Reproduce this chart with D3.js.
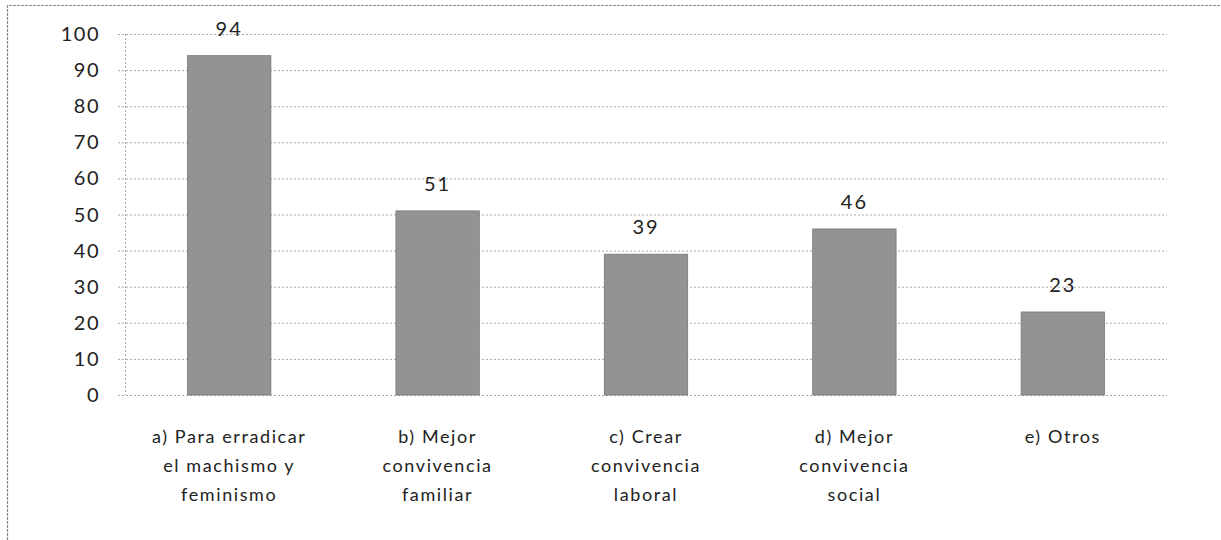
<!DOCTYPE html>
<html>
<head>
<meta charset="utf-8">
<script src="https://cdn.jsdelivr.net/npm/d3@7"></script>
<style>
  body { margin: 0; background: #fff; }
  text { font-family: Lato, "Open Sans", sans-serif; fill: #222; }
</style>
</head>
<body>
<div id="chart"></div>
<script>
// categories and values
var categories = [
    ["a) Para erradicar", "el machismo y", "feminismo"],
    ["b) Mejor", "convivencia", "familiar"],
    ["c) Crear", "convivencia", "laboral"],
    ["d) Mejor", "convivencia", "social"],
    ["e) Otros"]
];
var values = [94, 51, 39, 46, 23];
var yTicks = [0, 10, 20, 30, 40, 50, 60, 70, 80, 90, 100];

var width = 1221, height = 540;
var margin = {top: 34, right: 54, bottom: 145, left: 125};

var svg = d3.select("#chart").append("svg")
    .attr("width", width)
    .attr("height", height);

// outer frame (only top and left edges show)
svg.append("path")
    .attr("d", "M7.5," + height + "V5.5H" + width)
    .attr("fill", "none")
    .attr("stroke", "#8a8a8a")
    .attr("stroke-width", 1.2)
    .attr("stroke-dasharray", "3,1");

var x = d3.scaleBand()
    .domain(d3.range(values.length))
    .range([margin.left, width - margin.right])
    .paddingInner(0.6)
    .paddingOuter(0.3);

var y = d3.scaleLinear()
    .domain([0, 100])
    .range([395, margin.top]);

var g = svg.append("g");

// gridlines
g.selectAll(".grid")
    .data(yTicks)
    .enter()
    .append("line")
    .attr("class", "grid")
    .attr("x1", margin.left - 7)
    .attr("x2", width - margin.right)
    .attr("y1", function(d) { return y(d) + 0.5; })
    .attr("y2", function(d) { return y(d) + 0.5; })
    .attr("stroke", "#a8a8a8")
    .attr("stroke-width", 1)
    .attr("stroke-dasharray", "2,2");

// y axis line
g.append("line")
    .attr("x1", margin.left + 0.5)
    .attr("x2", margin.left + 0.5)
    .attr("y1", y(100))
    .attr("y2", y(0))
    .attr("stroke", "#a8a8a8")
    .attr("stroke-dasharray", "2,2");

// y tick labels
g.selectAll(".ytick")
    .data(yTicks)
    .enter()
    .append("text")
    .attr("class", "ytick")
    .attr("x", margin.left - 25)
    .attr("y", function(d) { return y(d); })
    .attr("dy", "0.35em")
    .attr("text-anchor", "end")
    .style("font-size", "20px")
    .style("letter-spacing", "1.5px")
    .text(function(d) { return d; });

// bars
g.selectAll(".bar")
    .data(values)
    .enter()
    .append("rect")
    .attr("class", "bar")
    .attr("x", function(d, i) { return x(i); })
    .attr("width", x.bandwidth())
    .attr("y", function(d) { return y(d); })
    .attr("height", function(d) { return y(0) - y(d); })
    .attr("fill", "#939393")
    .attr("stroke", "#777")
    .attr("stroke-width", 0.8);

// value labels
g.selectAll(".val")
    .data(values)
    .enter()
    .append("text")
    .attr("class", "val")
    .attr("x", function(d, i) { return x(i) + x.bandwidth() / 2; })
    .attr("y", function(d) { return y(d) - 20; })
    .attr("text-anchor", "middle")
    .style("font-size", "20px")
    .style("letter-spacing", "2px")
    .text(function(d) { return d; });

// category labels
var cat = g.selectAll(".cat")
    .data(categories)
    .enter()
    .append("text")
    .attr("class", "cat")
    .attr("text-anchor", "middle")
    .style("font-size", "18px")
    .style("letter-spacing", "1.6px")
    .attr("transform", function(d, i) {
        return "translate(" + (x(i) + x.bandwidth() / 2) + ",443)";
    });

cat.selectAll("tspan")
    .data(function(d) { return d; })
    .enter()
    .append("tspan")
    .attr("x", 0)
    .attr("y", function(d, i) { return i * 29; })
    .text(function(d) { return d; });
</script>
</body>
</html>
